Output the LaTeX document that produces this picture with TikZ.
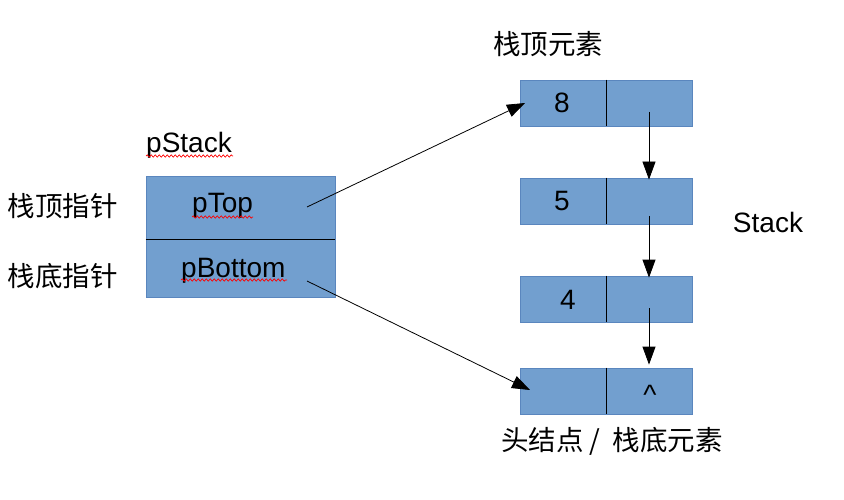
\documentclass[tikz,border=0pt]{standalone}
\usepackage{fontspec}
\setmainfont{Liberation Sans}
\newfontfamily\cjk{Noto Sans CJK SC}
\usetikzlibrary{arrows.meta,decorations.pathmorphing}
\definecolor{cellfill}{HTML}{729FCF}
\definecolor{cellborder}{HTML}{5A86BE}
\begin{document}
\begin{tikzpicture}[x=1pt,y=-1pt,
  cell/.style={draw=cellborder, fill=cellfill, line width=0.8pt, inner sep=0pt, minimum width=86pt, minimum height=46pt},
  pcell/.style={draw=cellborder, fill=cellfill, line width=0.8pt, inner sep=0pt, minimum width=189pt},
  txt/.style={font=\fontsize{28}{31}\selectfont, inner sep=0pt},
  cjktxt/.style={font=\fontsize{27.5}{30}\selectfont\cjk, inner sep=0pt},
  ptr/.style={line width=0.8pt, -{Triangle[length=18pt,width=13pt]}},
  squig/.style={red, line width=0.7pt, decorate, decoration={snake, amplitude=1.1pt, segment length=4pt}},
  divider/.style={black, line width=0.9pt}]
\useasboundingbox (0,0) rectangle (844,500);
% pStack structure
\node[pcell, minimum height=63pt] (ptop) at (240.5,207.5) {};
\node[pcell, minimum height=58pt] (pbot) at (240.5,268) {};
\draw[divider] (ptop.south west) -- (ptop.south east);
\node[txt, anchor=base west] (lpstack) at (146,153) {pStack};
\node[txt, anchor=base west] (lptop) at (192,213) {pTop};
\node[txt, anchor=base west] (lpbot) at (181,277) {pBottom};
\draw[squig] (146,156) -- (233,156);
\draw[squig] (192,217) -- (253,217);
\draw[squig] (181,280) -- (287,280);
\node[cjktxt] (ltopptr) at (63,206) {栈顶指针};
\node[cjktxt] (lbotptr) at (63,276) {栈底指针};
% stack cells
\node[cell] (s1a) at (563,103) {};
\node[cell] (s1b) at (649,103) {};
\node[cell] (s2a) at (563,201) {};
\node[cell] (s2b) at (649,201) {};
\node[cell] (s3a) at (563,299) {};
\node[cell] (s3b) at (649,299) {};
\node[cell] (s4a) at (563,391) {};
\node[cell] (s4b) at (649,391) {};
\foreach \n in {s1a,s2a,s3a,s4a} \draw[divider] (\n.north east) -- (\n.south east);
\node[txt, anchor=base] (v8) at (562,113) {8};
\node[txt, anchor=base] (v5) at (562,211) {5};
\node[txt, anchor=base] (v4) at (568,309) {4};
\node[txt, anchor=base] (vnull) at (650,404) {\^{}};
\node[cjktxt] (ltopel) at (548,44) {栈顶元素};
\node[txt, anchor=base] (lstack) at (768,233) {Stack};
\node[cjktxt] (lhead) at (612,441) {头结点 /\ \ 栈底元素};
% pointers
\coordinate (ptopsrc) at (307,207);
\coordinate (pbotsrc) at (307,281);
\coordinate (s1in) at (525,103);
\coordinate (s4in) at (530,390);
\coordinate (n1) at (649,112);
\coordinate (n2) at (649,216);
\coordinate (n3) at (649,308);
\draw[ptr] (ptopsrc) -- (s1in);
\draw[ptr] (pbotsrc) -- (s4in);
\draw[ptr] (n1) -- ([yshift=-2pt]s2b.north);
\draw[ptr] (n2) -- ([yshift=-2pt]s3b.north);
\draw[ptr] (n3) -- ([yshift=3pt]s4b.north);
\end{tikzpicture}
\end{document}
